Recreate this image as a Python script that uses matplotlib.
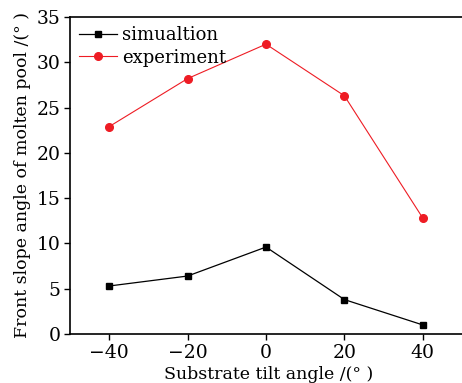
import matplotlib
matplotlib.use('Agg')
import matplotlib.pyplot as plt

# 데이터
tilt = [-40, -20, 0, 20, 40]
simulation = [5.3, 6.4, 9.6, 3.8, 1.0]
experiment = [22.9, 28.2, 32.0, 26.3, 12.8]

plt.rcParams['font.family'] = ['DejaVu Serif']

fig = plt.figure(figsize=(4.62, 3.83), dpi=100)
ax = fig.add_axes([70 / 462, 1 - 334 / 383, (462 - 70) / 462 + 0.01, (334 - 17) / 383])

ax.plot(tilt, simulation, color='black', lw=0.9, marker='s', ms=5, label='simualtion')
ax.plot(tilt, experiment, color='#ee1c24', lw=0.8, marker='o', ms=5.5, label='experiment')

ax.set_xlim(-50, 50 + 100 * 0.01 / ((462 - 70) / 462))
ax.set_ylim(0, 35)
ax.set_xticks(tilt)
ax.set_xticklabels(['\u221240', '\u221220', '0', '20', '40'])
ax.set_yticks(range(0, 36, 5))
ax.tick_params(direction='out', length=4, width=1, labelsize=13.5, pad=3)
for s in ax.spines.values():
    s.set_linewidth(1.2)
ax.spines['right'].set_visible(False)

ax.set_xlabel('Substrate tilt angle /(\u00b0 )', fontsize=12.5, labelpad=3)
ax.set_ylabel('Front slope angle of molten pool /(\u00b0 )', fontsize=12.5, labelpad=4)

ax.legend(loc='upper left', frameon=False, fontsize=13, handlelength=2.1,
          handletextpad=0.3, labelspacing=0.25, borderpad=0.1, borderaxespad=0.4)

fig.savefig('out.png', dpi=100)
